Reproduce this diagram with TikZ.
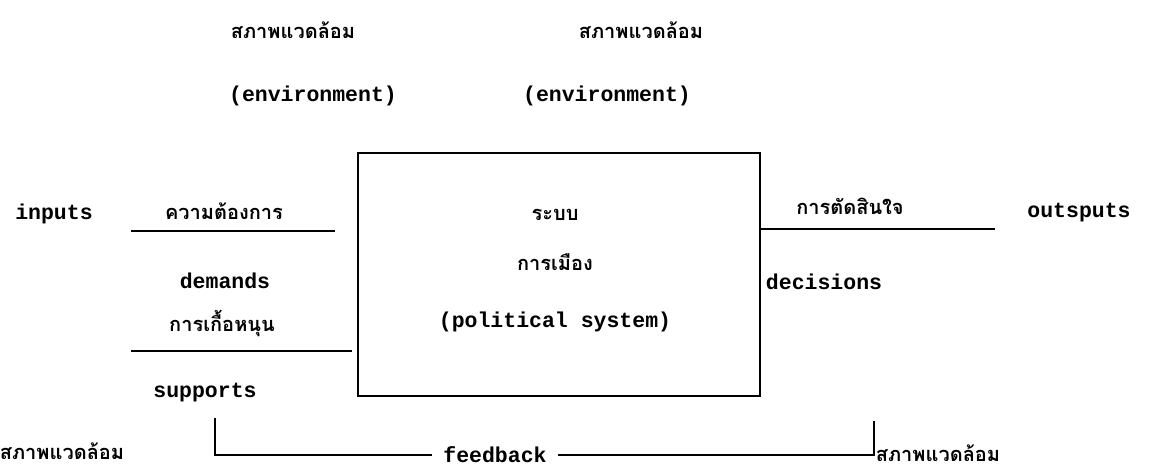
\documentclass[tikz,border=0pt]{standalone}
\usepackage{fontspec}
\setmainfont{Liberation Mono}
\newfontfamily\thaifont[Script=Thai]{Loma}
\usepackage{tikz}
\usetikzlibrary{positioning}

\tikzset{
  lbl/.style={font=\fontsize{21.5}{24}\selectfont\bfseries, inner sep=0pt},
  thl/.style={font=\fontsize{20}{24}\selectfont\thaifont\bfseries, inner sep=0pt},
  ln/.style={line width=2.7pt}
}

\begin{document}
\begin{tikzpicture}[x=1pt,y=-1pt]
  \useasboundingbox (0,0) rectangle (1153,470);
  \node [thl] (envTL) at (293,30) {สภาพแวดล้อม};
  \node [lbl] (envTLen) at (313,96) {(environment)};
  \node [thl] (envTR) at (641,30) {สภาพแวดล้อม};
  \node [lbl] (envTRen) at (607,96) {(environment)};
  \node [draw, ln, minimum width=402pt, minimum height=243pt] (sys) at (559,274.5) {};
  \node [thl] (sysA) at (555,215) {ระบบ};
  \node [thl] (sysB) at (555,262) {การเมือง};
  \node [lbl] (sysC) at (555,322) {(political system)};
  \node [lbl] (in) at (54,214) {inputs};
  \node [thl] (dem) at (224,211) {ความต้องการ};
  \coordinate (demL) at (131,231);
  \coordinate (demR) at (335,231);
  \path [ln] (demL) edge (demR);
  \node [lbl] (demEn) at (225,281) {demands};
  \node [thl] (sup) at (222,324) {การเกื้อหนุน};
  \coordinate (supL) at (131,351);
  \coordinate (supR) at (352,351);
  \path [ln] (supL) edge (supR);
  \node [lbl] (supEn) at (205,393) {supports};
  \node [thl] (dec) at (850,206) {การตัดสินใจ};
  \coordinate (decL) at (760,229);
  \coordinate (decR) at (995,229);
  \path [ln] (decL) edge (decR);
  \node [lbl] (out) at (1079,213) {outsputs};
  \node [lbl] (decEn) at (824,282) {decisions};
  \node [thl] (envBL) at (62,451) {สภาพแวดล้อม};
  \node [lbl, inner xsep=11pt] (fb) at (495,455) {feedback};
  \node [thl] (envBR) at (938,453) {สภาพแวดล้อม};
  \coordinate (fbL) at (215,418);
  \coordinate (fbR) at (874,421);
  \draw [ln] (fbL) |- (fb.west);
  \draw [ln] (fb.east) -| (fbR);
\end{tikzpicture}
\end{document}
